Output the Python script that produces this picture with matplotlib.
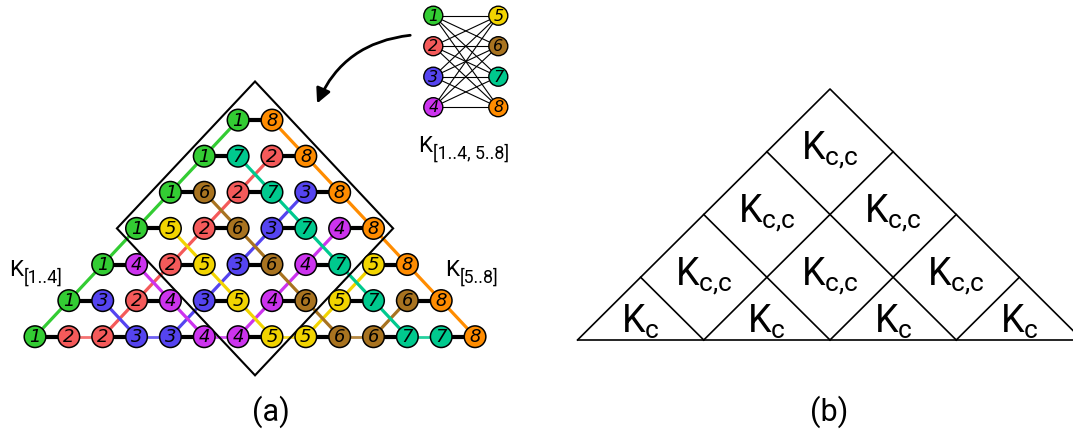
import matplotlib
matplotlib.use("Agg")
from matplotlib import pyplot as plt
from matplotlib.patches import Circle, FancyArrowPatch, Polygon

plt.rcParams['font.family'] = ['Roboto', 'DejaVu Sans']
plt.rcParams['mathtext.fontset'] = 'custom'
plt.rcParams['mathtext.rm'] = 'Roboto'
plt.rcParams['mathtext.it'] = 'Roboto'

# swap network: node values per row (row k starts at column k)
rows = [
    [1, 2, 2, 3, 3, 4, 4, 5, 5, 6, 6, 7, 7, 8],
    [1, 3, 2, 4, 3, 5, 4, 6, 5, 7, 6, 8],
    [1, 4, 2, 5, 3, 6, 4, 7, 5, 8],
    [1, 5, 2, 6, 3, 7, 4, 8],
    [1, 6, 2, 7, 3, 8],
    [1, 7, 2, 8],
    [1, 8],
]
left_part = [1, 2, 3, 4]
right_part = [5, 6, 7, 8]
colors = {1: '#33cc33', 2: '#f45a5a', 3: '#5544f0', 4: '#cc33ee',
          5: '#f2d400', 6: '#a87320', 7: '#00c98e', 8: '#ff8c00'}

# panel (b) subscripts, by layer from the bottom
b_labels = [['c'] * 4, ['c{,}c'] * 3, ['c{,}c'] * 2, ['c{,}c']]

fig = plt.figure(figsize=(10.73, 4.45), dpi=100)
ax = fig.add_axes([0, 0, 1, 1])
ax.set_xlim(0, 1073)
ax.set_ylim(445, 0)
ax.axis('off')


def klabel(x, y, sub, size=16):
    # "K" with a plain-text subscript (keeps "1..4" without math spacing)
    ax.text(x, y, 'K', fontsize=size, ha='left', va='baseline')
    ax.annotate(sub, (x, y), xytext=(0.68 * size, -0.3 * size),
                textcoords='offset points', fontsize=0.8 * size,
                ha='left', va='baseline')


# ---------- panel (a) ----------
X0, DX = 35.0, 33.85
Y0, DY = 336.7, 36.1
R = 10.8


def pos(r, c):
    return X0 + c * DX, Y0 - r * DY


nodes = []
for r, vals in enumerate(rows):
    for i, v in enumerate(vals):
        nodes.append((r, r + i, v))

# colored lines: same value in neighbouring rows / same row (non paired)
for (r1, c1, v1) in nodes:
    for (r2, c2, v2) in nodes:
        if v1 != v2 or (r2, c2) <= (r1, c1):
            continue
        if abs(c1 - c2) != 1:
            continue
        (xa, ya), (xb, yb) = pos(r1, c1), pos(r2, c2)
        if abs(r1 - r2) == 1:
            ax.plot([xa, xb], [ya, yb], color=colors[v1], lw=2.3, zorder=2)
        elif r1 == r2 and (min(c1, c2) - r1) % 2 == 1:
            ax.plot([xa, xb], [ya, yb], color=colors[v1], lw=2.0, alpha=0.85,
                    zorder=2)

# black pair edges
for r, vals in enumerate(rows):
    for i in range(0, len(vals) - 1, 2):
        (xa, ya), (xb, yb) = pos(r, r + i), pos(r, r + i + 1)
        ax.plot([xa, xb], [ya, yb], color='black', lw=3.0, zorder=3)

# enclosing diamond
cx, cy = pos(3, 6.5)
hw, hh = 4.08 * DX, 4.07 * DY
ax.add_patch(Polygon([(cx, cy - hh), (cx + hw, cy), (cx, cy + hh), (cx - hw, cy)],
                     closed=True, fill=False, ec='black', lw=1.5, zorder=4))

for (r, c, v) in nodes:
    x, y = pos(r, c)
    ax.add_patch(Circle((x, y), R, fc=colors[v], ec='black', lw=1.1, zorder=5))
    ax.text(x, y + 0.5, str(v), ha='center', va='center', fontsize=13,
            family='DejaVu Sans', style='italic', zorder=6)

# bipartite graph K[1..4, 5..8]
BX_L, BX_R, BY0, BDY, BR = 433.3, 498.3, 15.7, 30.5, 9.5
for i in range(len(left_part)):
    for j in range(len(right_part)):
        ax.plot([BX_L, BX_R], [BY0 + i * BDY, BY0 + j * BDY], color='black',
                lw=0.8, zorder=2)
for side_x, part in ((BX_L, left_part), (BX_R, right_part)):
    for i, v in enumerate(part):
        ax.add_patch(Circle((side_x, BY0 + i * BDY), BR, fc=colors[v],
                            ec='black', lw=1.0, zorder=5))
        ax.text(side_x, BY0 + i * BDY + 0.5, str(v), ha='center', va='center',
                fontsize=11.5, family='DejaVu Sans', style='italic', zorder=6)

arrow = FancyArrowPatch((413, 35), (316, 106), connectionstyle='arc3,rad=0.3',
                        arrowstyle='-|>', mutation_scale=22, lw=2.0,
                        color='black', zorder=6)
ax.add_patch(arrow)

klabel(418, 152, '[1..4, 5..8]')
klabel(9, 276, '[1..4]')
klabel(445, 276, '[5..8]')

# ---------- panel (b) ----------
BL, BASE, APEX_X, H = 577.5, 340.0, 830.0, 251.0
step = (APEX_X - BL) / 2
BRt = BL + 4 * step
slope = H / (APEX_X - BL)
lk = dict(color='black', lw=1.2)
ax.plot([BL, 1073], [BASE, BASE], **lk)
ax.plot([BL, APEX_X, BRt], [BASE, BASE - H, BASE], **lk)
for k in range(1, 4):
    x = BL + k * step
    t = (BRt - x) / 2
    ax.plot([x, x + t], [BASE, BASE - t * slope], **lk)
    t = (x - BL) / 2
    ax.plot([x, x - t], [BASE, BASE - t * slope], **lk)

for layer, labs in enumerate(b_labels):
    for i, sub in enumerate(labs):
        if layer == 0:
            x, y = BL + (i + 0.5) * step, BASE - 18
        else:
            x = BL + (layer / 2 + 0.5 + i) * step
            y = BASE - layer * step / 2 * slope - 1
        ax.text(x, y, r'$\mathrm{K}_{\mathrm{%s}}$' % sub, fontsize=27,
                ha='center', va='center')

ax.text(271, 412, '(a)', fontsize=22, ha='center', va='center')
ax.text(829, 412, '(b)', fontsize=22, ha='center', va='center')

fig.savefig('out.png', dpi=100)
